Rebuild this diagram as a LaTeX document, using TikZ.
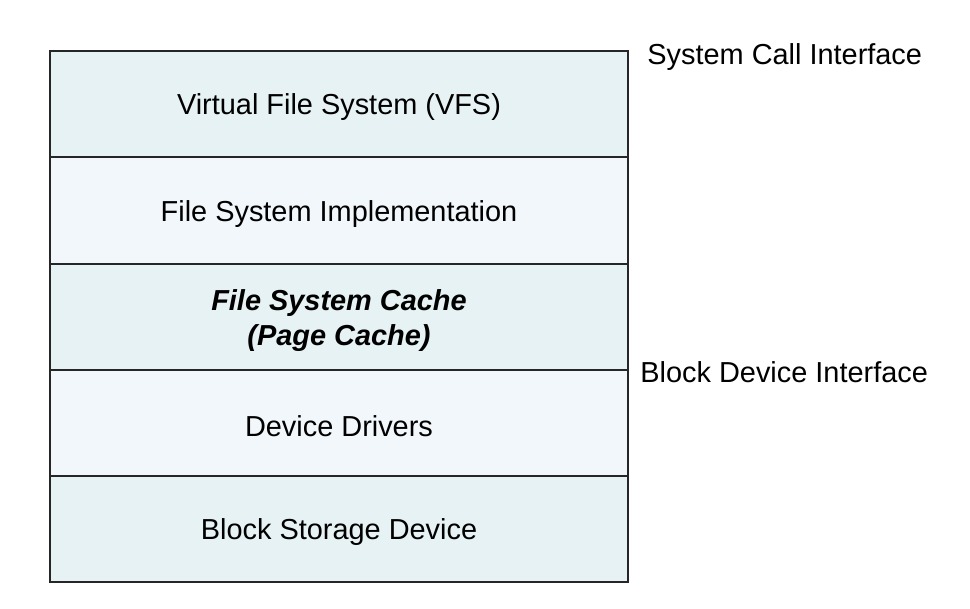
\documentclass[tikz,border=0pt]{standalone}
\usepackage{fontspec}
\setmainfont{Liberation Sans}
\begin{document}
\begin{tikzpicture}[x=0.5pt,y=-0.5pt,
  layerA/.style={draw=black!85,line width=1pt,fill={rgb,255:red,230;green,242;blue,244}},
  layerB/.style={draw=black!85,line width=1pt,fill={rgb,255:red,241;green,247;blue,250}},
  lbl/.style={font=\fontsize{14.45}{17.6}\selectfont,text=black,inner sep=0pt,align=center}]
\useasboundingbox (0,0) rectangle (970,609);
% stacked layers of the storage path
\draw[layerA] (50,51) rectangle (628,157);
\draw[layerB] (50,157) rectangle (628,264);
\draw[layerA] (50,264) rectangle (628,370);
\draw[layerB] (50,370) rectangle (628,476);
\draw[layerA] (50,476) rectangle (628,582);
% layer labels
\node[lbl] (vfs) at (339,107) {Virtual File System (VFS)};
\node[lbl] (fsi) at (339,214) {File System Implementation};
\node[lbl] (cache) at (339,320.5) {\bfseries\itshape File System Cache\\[0pt]\bfseries\itshape (Page Cache)};
\node[lbl] (drv) at (339,426) {Device Drivers};
\node[lbl] (blk) at (339,532) {Block Storage Device};
% interface boundaries
\node[lbl,anchor=west] (sci) at (647,57) {System Call Interface};
\node[lbl,anchor=west] (bdi) at (640,372) {Block Device Interface};
\end{tikzpicture}
\end{document}
